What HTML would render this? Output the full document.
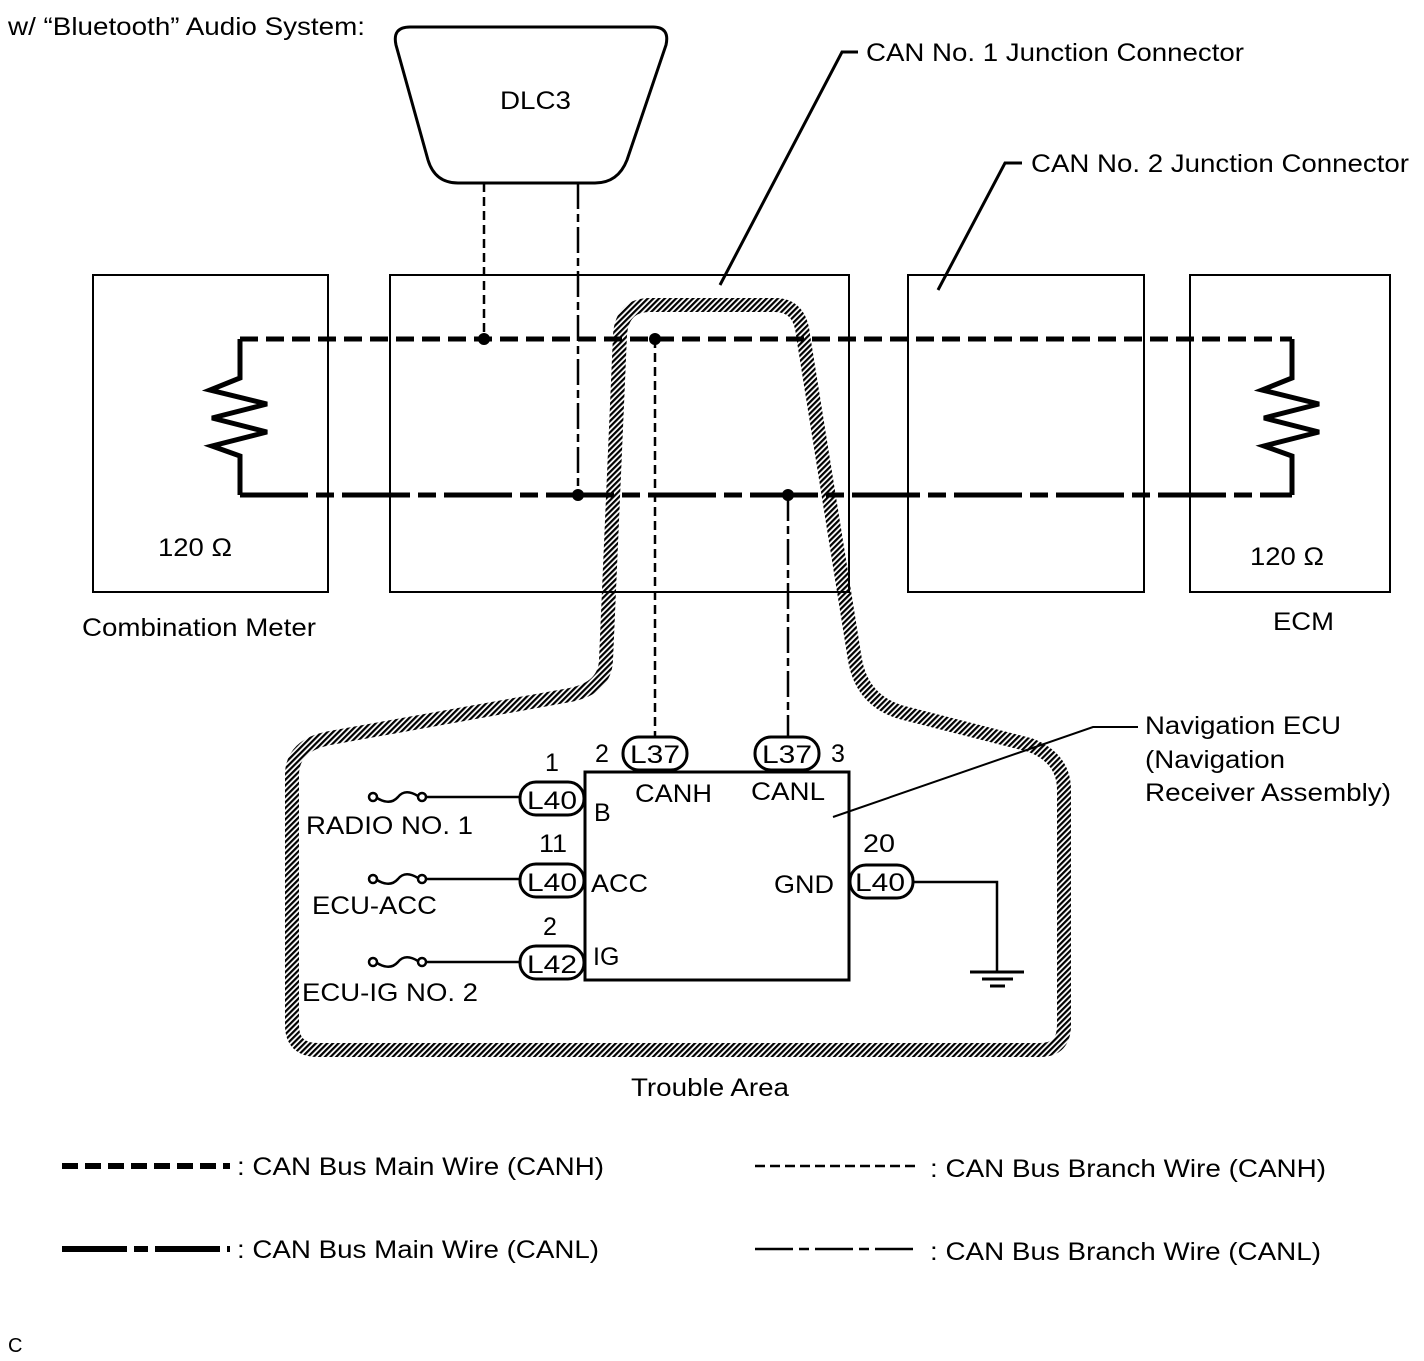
<!DOCTYPE html>
<html><head><meta charset="utf-8"><style>
html,body{margin:0;padding:0;background:#fff}
svg{display:block}
text{font-family:"Liberation Sans",sans-serif;fill:#000}
</style></head><body>
<svg width="1424" height="1361" viewBox="0 0 1424 1361" xmlns="http://www.w3.org/2000/svg">
<defs>
<pattern id="h" patternUnits="userSpaceOnUse" width="4" height="4" patternTransform="rotate(45)">
<rect x="0" y="0" width="2.2" height="4" fill="#000"/>
</pattern>
</defs>
<rect width="1424" height="1361" fill="#fff"/>
<g font-size="25" lengthAdjust="spacingAndGlyphs">
<text x="8" y="35" textLength="357" lengthAdjust="spacingAndGlyphs">w/ “Bluetooth” Audio System:</text>
<text x="866" y="61" textLength="378" lengthAdjust="spacingAndGlyphs">CAN No. 1 Junction Connector</text>
<text x="1031" y="172" textLength="378" lengthAdjust="spacingAndGlyphs">CAN No. 2 Junction Connector</text>
<text x="500" y="109" textLength="71" lengthAdjust="spacingAndGlyphs">DLC3</text>
<text x="158" y="556" textLength="74" lengthAdjust="spacingAndGlyphs">120 Ω</text>
<text x="1250" y="565" textLength="74" lengthAdjust="spacingAndGlyphs">120 Ω</text>
<text x="82" y="636" textLength="234" lengthAdjust="spacingAndGlyphs">Combination Meter</text>
<text x="1273" y="630" textLength="61" lengthAdjust="spacingAndGlyphs">ECM</text>
<text x="1145" y="734" textLength="196" lengthAdjust="spacingAndGlyphs">Navigation ECU</text>
<text x="1145" y="768" textLength="140" lengthAdjust="spacingAndGlyphs">(Navigation</text>
<text x="1145" y="801" textLength="246" lengthAdjust="spacingAndGlyphs">Receiver Assembly)</text>
<text x="631" y="1096" textLength="158" lengthAdjust="spacingAndGlyphs">Trouble Area</text>
<text x="237" y="1175" textLength="367" lengthAdjust="spacingAndGlyphs">: CAN Bus Main Wire (CANH)</text>
<text x="237" y="1258" textLength="362" lengthAdjust="spacingAndGlyphs">: CAN Bus Main Wire (CANL)</text>
<text x="930" y="1177" textLength="396" lengthAdjust="spacingAndGlyphs">: CAN Bus Branch Wire (CANH)</text>
<text x="930" y="1260" textLength="391" lengthAdjust="spacingAndGlyphs">: CAN Bus Branch Wire (CANL)</text>
<text x="8" y="1352" font-size="20">C</text>
</g>
<!-- boxes -->
<g fill="none" stroke="#000" stroke-width="2">
<rect x="93" y="275" width="235" height="317"/>
<rect x="390" y="275" width="459" height="317"/>
<rect x="908" y="275" width="236" height="317"/>
<rect x="1190" y="275" width="200" height="317"/>
</g>
<!-- DLC3 -->
<path d="M410,27 L653,27 Q670,27 666,45 L627,160 Q618,183 595,183 L458,183 Q435,183 428,160 L396,45 Q392,27 410,27 Z" fill="none" stroke="#000" stroke-width="3"/>
<!-- leaders -->
<g fill="none" stroke="#000" stroke-width="3">
<polyline points="720,285 842,52 858,52"/>
<polyline points="938,290 1005,163 1022,163"/>
<polyline points="833,817 1093,727 1138,727" stroke-width="2"/>
</g>
<!-- hatched trouble area -->
<path d="M620,335 Q622,305 650,305 L775,305 Q800,305 803,335 L855,660 Q862,700 900,712 L1030,745 Q1064,758 1064,790 L1064,1025 Q1064,1050 1040,1050 L318,1050 Q292,1050 292,1025 L292,775 Q292,745 330,738 L570,695 Q605,688 606,660 Z" fill="none" stroke="url(#h)" stroke-width="14"/>
<!-- main wires -->
<g fill="none" stroke="#000" stroke-width="5">
<line x1="240" y1="339" x2="1292" y2="339" stroke-dasharray="18 8"/>
<line x1="240" y1="495" x2="1292" y2="495" stroke-dasharray="68 8 18 8"/>
<polyline points="240,339 240,378 210,390 267,404 212,418 267,432 212,446 240,456 240,495"/>
<polyline points="1292,339 1292,378 1262,390 1319,404 1264,418 1319,432 1264,446 1292,456 1292,495"/>
</g>
<!-- branch wires -->
<g fill="none" stroke="#000" stroke-width="2.5">
<line x1="484" y1="183" x2="484" y2="339" stroke-dasharray="9 5"/>
<line x1="578" y1="183" x2="578" y2="495" stroke-dasharray="26 5 8 5"/>
<line x1="655" y1="339" x2="655" y2="738" stroke-dasharray="9 5"/>
<line x1="788" y1="495" x2="788" y2="738" stroke-dasharray="26 5 8 5"/>
</g>
<g fill="#000">
<circle cx="484" cy="339" r="6"/>
<circle cx="655" cy="339" r="6"/>
<circle cx="578" cy="495" r="6"/>
<circle cx="788" cy="495" r="6"/>
</g>
<!-- Nav ECU -->
<rect x="585" y="772" width="264" height="208" fill="none" stroke="#000" stroke-width="3"/>
<g fill="#fff" stroke="#000" stroke-width="3">
<rect x="623" y="737" width="64" height="33" rx="16"/>
<rect x="755" y="737" width="64" height="33" rx="16"/>
<rect x="520" y="782" width="64" height="33" rx="16"/>
<rect x="520" y="864" width="64" height="33" rx="16"/>
<rect x="520" y="946" width="64" height="33" rx="16"/>
<rect x="850" y="865" width="63" height="33" rx="16"/>
</g>
<g font-size="25">
<text x="630" y="763" textLength="50" lengthAdjust="spacingAndGlyphs">L37</text>
<text x="762" y="763" textLength="50" lengthAdjust="spacingAndGlyphs">L37</text>
<text x="527" y="809" textLength="50" lengthAdjust="spacingAndGlyphs">L40</text>
<text x="527" y="891" textLength="50" lengthAdjust="spacingAndGlyphs">L40</text>
<text x="527" y="973" textLength="50" lengthAdjust="spacingAndGlyphs">L42</text>
<text x="855" y="891" textLength="50" lengthAdjust="spacingAndGlyphs">L40</text>
<text x="595" y="762">2</text>
<text x="831" y="762">3</text>
<text x="545" y="771">1</text>
<text x="539" y="852" textLength="28" lengthAdjust="spacingAndGlyphs">11</text>
<text x="543" y="935">2</text>
<text x="863" y="852" textLength="32" lengthAdjust="spacingAndGlyphs">20</text>
<text x="635" y="802" textLength="77" lengthAdjust="spacingAndGlyphs">CANH</text>
<text x="751" y="800" textLength="74" lengthAdjust="spacingAndGlyphs">CANL</text>
<text x="594" y="821">B</text>
<text x="591" y="892" textLength="57" lengthAdjust="spacingAndGlyphs">ACC</text>
<text x="593" y="965">IG</text>
<text x="774" y="893" textLength="60" lengthAdjust="spacingAndGlyphs">GND</text>
<text x="306" y="834" textLength="167" lengthAdjust="spacingAndGlyphs">RADIO NO. 1</text>
<text x="312" y="914" textLength="125" lengthAdjust="spacingAndGlyphs">ECU-ACC</text>
<text x="302" y="1001" textLength="176" lengthAdjust="spacingAndGlyphs">ECU-IG NO. 2</text>
</g>
<!-- fuses and wires -->
<g fill="none" stroke="#000" stroke-width="2.5">
<line x1="427" y1="797" x2="520" y2="797"/>
<line x1="427" y1="879" x2="520" y2="879"/>
<line x1="427" y1="962" x2="520" y2="962"/>
<circle cx="373" cy="797" r="4"/><circle cx="422" cy="797" r="4"/>
<path d="M377,798 Q390,806 398,797 Q405,788 418,796"/>
<circle cx="373" cy="879" r="4"/><circle cx="422" cy="879" r="4"/>
<path d="M377,880 Q390,888 398,879 Q405,870 418,878"/>
<circle cx="373" cy="962" r="4"/><circle cx="422" cy="962" r="4"/>
<path d="M377,963 Q390,971 398,962 Q405,953 418,961"/>
<polyline points="913,882 997,882 997,972"/>
</g>
<g stroke="#000" stroke-width="3">
<line x1="970" y1="972" x2="1024" y2="972"/>
<line x1="982" y1="979" x2="1013" y2="979"/>
<line x1="990" y1="986" x2="1005" y2="986"/>
</g>
<!-- legend -->
<g fill="none" stroke="#000">
<line x1="62" y1="1166" x2="230" y2="1166" stroke-width="6" stroke-dasharray="16 7"/>
<line x1="62" y1="1249" x2="230" y2="1249" stroke-width="6" stroke-dasharray="65 7 14 7"/>
<line x1="755" y1="1166" x2="918" y2="1166" stroke-width="2.5" stroke-dasharray="10 5"/>
<line x1="755" y1="1249" x2="918" y2="1249" stroke-width="2.5" stroke-dasharray="38 6 10 6"/>
</g>
</svg>
</body></html>
